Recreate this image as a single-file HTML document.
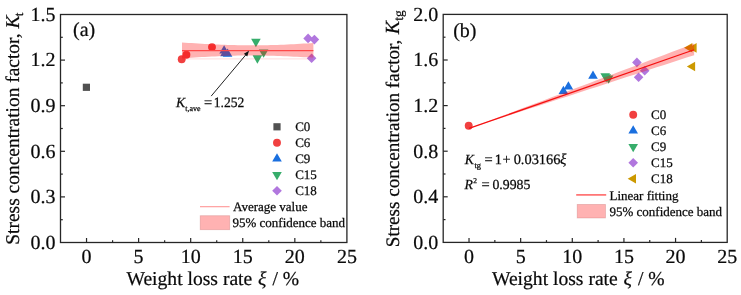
<!DOCTYPE html>
<html><head><meta charset="utf-8"><style>
html,body{margin:0;padding:0;background:#fff;}
svg{display:block;}
text{font-family:"Liberation Serif",serif;fill:#0a0a0a;stroke:#0a0a0a;stroke-width:0.25px;text-rendering:geometricPrecision;}
svg{will-change:transform;}
.b{stroke-width:0.22px;}
</style></head><body>
<svg width="741" height="295" viewBox="0 0 741 295">
<rect width="741" height="295" fill="#fff"/>
<line x1="86.54" y1="242.50" x2="86.54" y2="238.00" stroke="#262626" stroke-width="1.2"/>
<line x1="138.61" y1="242.50" x2="138.61" y2="238.00" stroke="#262626" stroke-width="1.2"/>
<line x1="190.68" y1="242.50" x2="190.68" y2="238.00" stroke="#262626" stroke-width="1.2"/>
<line x1="242.75" y1="242.50" x2="242.75" y2="238.00" stroke="#262626" stroke-width="1.2"/>
<line x1="294.83" y1="242.50" x2="294.83" y2="238.00" stroke="#262626" stroke-width="1.2"/>
<line x1="112.57" y1="242.50" x2="112.57" y2="240.20" stroke="#262626" stroke-width="1.2"/>
<line x1="164.65" y1="242.50" x2="164.65" y2="240.20" stroke="#262626" stroke-width="1.2"/>
<line x1="216.72" y1="242.50" x2="216.72" y2="240.20" stroke="#262626" stroke-width="1.2"/>
<line x1="268.79" y1="242.50" x2="268.79" y2="240.20" stroke="#262626" stroke-width="1.2"/>
<line x1="320.86" y1="242.50" x2="320.86" y2="240.20" stroke="#262626" stroke-width="1.2"/>
<line x1="60.50" y1="196.90" x2="65.00" y2="196.90" stroke="#262626" stroke-width="1.2"/>
<line x1="60.50" y1="151.30" x2="65.00" y2="151.30" stroke="#262626" stroke-width="1.2"/>
<line x1="60.50" y1="105.70" x2="65.00" y2="105.70" stroke="#262626" stroke-width="1.2"/>
<line x1="60.50" y1="60.10" x2="65.00" y2="60.10" stroke="#262626" stroke-width="1.2"/>
<line x1="60.50" y1="219.70" x2="62.80" y2="219.70" stroke="#262626" stroke-width="1.2"/>
<line x1="60.50" y1="174.10" x2="62.80" y2="174.10" stroke="#262626" stroke-width="1.2"/>
<line x1="60.50" y1="128.50" x2="62.80" y2="128.50" stroke="#262626" stroke-width="1.2"/>
<line x1="60.50" y1="82.90" x2="62.80" y2="82.90" stroke="#262626" stroke-width="1.2"/>
<line x1="60.50" y1="37.30" x2="62.80" y2="37.30" stroke="#262626" stroke-width="1.2"/>
<rect x="60.50" y="14.50" width="286.40" height="228.00" fill="none" stroke="#262626" stroke-width="1.3"/>
<text x="86.54" y="262.80" text-anchor="middle" class="b" font-family="Liberation Serif" font-size="20">0</text>
<text x="138.61" y="262.80" text-anchor="middle" class="b" font-family="Liberation Serif" font-size="20">5</text>
<text x="190.68" y="262.80" text-anchor="middle" class="b" font-family="Liberation Serif" font-size="20">10</text>
<text x="242.75" y="262.80" text-anchor="middle" class="b" font-family="Liberation Serif" font-size="20">15</text>
<text x="294.83" y="262.80" text-anchor="middle" class="b" font-family="Liberation Serif" font-size="20">20</text>
<text x="346.90" y="262.80" text-anchor="middle" class="b" font-family="Liberation Serif" font-size="20">25</text>
<text x="55.50" y="248.80" text-anchor="end" class="b" font-family="Liberation Serif" font-size="20">0.0</text>
<text x="55.50" y="203.20" text-anchor="end" class="b" font-family="Liberation Serif" font-size="20">0.3</text>
<text x="55.50" y="157.60" text-anchor="end" class="b" font-family="Liberation Serif" font-size="20">0.6</text>
<text x="55.50" y="112.00" text-anchor="end" class="b" font-family="Liberation Serif" font-size="20">0.9</text>
<text x="55.50" y="66.40" text-anchor="end" class="b" font-family="Liberation Serif" font-size="20">1.2</text>
<text x="55.50" y="20.80" text-anchor="end" class="b" font-family="Liberation Serif" font-size="20">1.5</text>
<text transform="translate(18.9,244.7) rotate(-90)" class="b" font-family="Liberation Serif" font-size="19.45">Stress concentration factor, <tspan font-style="italic">K</tspan><tspan font-size="13" dy="4" dx="-0.6">t</tspan></text>
<text x="126.5" y="285" class="b" font-family="Liberation Serif" font-size="19.6">Weight loss rate <tspan font-style="italic" dx="0.8">ξ</tspan><tspan dx="1.2"> / %</tspan></text>
<text x="73" y="35.5" class="b" font-family="Liberation Serif" font-size="20">(a)</text>
<rect x="82.80" y="83.70" width="7.20" height="7.20" fill="#515151"/>
<circle cx="181.70" cy="59.20" r="3.95" fill="#F14040"/>
<circle cx="186.40" cy="54.80" r="3.95" fill="#F14040"/>
<circle cx="212.00" cy="47.10" r="3.95" fill="#F14040"/>
<path d="M224.10,45.15L228.90,53.45L219.30,53.45Z" fill="#1A6FDF"/>
<path d="M225.00,48.05L229.80,56.35L220.20,56.35Z" fill="#1A6FDF"/>
<path d="M227.60,48.55L232.40,56.85L222.80,56.85Z" fill="#1A6FDF"/>
<path d="M255.90,47.15L260.70,38.85L251.10,38.85Z" fill="#37AD6B"/>
<path d="M263.60,57.75L268.40,49.45L258.80,49.45Z" fill="#37AD6B"/>
<path d="M257.40,63.65L262.20,55.35L252.60,55.35Z" fill="#37AD6B"/>
<path d="M308.10,33.60L312.90,38.40L308.10,43.20L303.30,38.40Z" fill="#B177DE"/>
<path d="M314.40,34.80L319.20,39.60L314.40,44.40L309.60,39.60Z" fill="#B177DE"/>
<path d="M311.60,53.50L316.40,58.30L311.60,63.10L306.80,58.30Z" fill="#B177DE"/>
<polygon points="182.00,42.45 185.28,42.67 188.57,42.88 191.85,43.10 195.14,43.30 198.43,43.50 201.71,43.69 205.00,43.88 208.28,44.06 211.56,44.23 214.85,44.39 218.13,44.54 221.42,44.68 224.70,44.81 227.99,44.93 231.27,45.03 234.56,45.12 237.84,45.20 241.13,45.26 244.41,45.31 247.70,45.34 250.98,45.35 254.27,45.35 257.55,45.33 260.84,45.29 264.12,45.24 267.41,45.17 270.69,45.09 273.98,44.99 277.26,44.89 280.55,44.76 283.83,44.63 287.12,44.48 290.40,44.33 293.69,44.16 296.97,43.99 300.26,43.81 303.54,43.62 306.83,43.43 310.12,43.22 313.40,43.02 313.40,57.78 310.12,57.58 306.83,57.37 303.54,57.18 300.26,56.99 296.97,56.81 293.69,56.64 290.40,56.47 287.12,56.32 283.83,56.17 280.55,56.04 277.26,55.91 273.98,55.81 270.69,55.71 267.41,55.63 264.12,55.56 260.84,55.51 257.55,55.47 254.27,55.45 250.98,55.45 247.70,55.46 244.41,55.49 241.13,55.54 237.84,55.60 234.56,55.68 231.27,55.77 227.99,55.87 224.70,55.99 221.42,56.12 218.13,56.26 214.85,56.41 211.56,56.57 208.28,56.74 205.00,56.92 201.71,57.11 198.43,57.30 195.14,57.50 191.85,57.70 188.57,57.92 185.28,58.13 182.00,58.35" fill="#FF0000" fill-opacity="0.3"/>
<line x1="182" y1="58.9" x2="313" y2="58.9" stroke="#FF0000" stroke-opacity="0.14" stroke-width="1"/>
<line x1="182" y1="50.6" x2="313.4" y2="50.6" stroke="#FF4848" stroke-width="1.3"/>
<line x1="211.2" y1="96.1" x2="246.2" y2="54.4" stroke="#222" stroke-width="1"/>
<path d="M249.0,50.8 L247.2,56.4 L243.9,53.8 Z" fill="#111"/>
<text x="175.96" y="107.30" font-family="Liberation Serif" font-size="13.8" font-style="italic">K</text>
<text x="185.32" y="110.60" font-family="Liberation Serif" font-size="7.9">t,ave</text>
<text x="203.88" y="107.30" font-family="Liberation Serif" font-size="14.5">=</text>
<text x="213.74" y="107.30" font-family="Liberation Serif" font-size="14.3" textLength="30.57" lengthAdjust="spacingAndGlyphs">1.252</text>
<rect x="273.40" y="123.20" width="7.20" height="7.20" fill="#515151"/>
<text x="295.2" y="131.40" font-family="Liberation Serif" font-size="13">C0</text>
<circle cx="277.00" cy="142.80" r="3.95" fill="#F14040"/>
<text x="295.2" y="147.40" font-family="Liberation Serif" font-size="13">C6</text>
<path d="M277.00,153.27L281.80,161.57L272.20,161.57Z" fill="#1A6FDF"/>
<text x="295.2" y="163.40" font-family="Liberation Serif" font-size="13">C9</text>
<path d="M277.00,180.33L281.80,172.03L272.20,172.03Z" fill="#37AD6B"/>
<text x="295.2" y="179.40" font-family="Liberation Serif" font-size="13">C15</text>
<path d="M277.00,186.00L281.80,190.80L277.00,195.60L272.20,190.80Z" fill="#B177DE"/>
<text x="295.2" y="195.40" font-family="Liberation Serif" font-size="13">C18</text>
<line x1="200" y1="206.7" x2="229.6" y2="206.7" stroke="#FF0000" stroke-opacity="0.42" stroke-width="1.1"/>
<text x="233" y="211.2" font-family="Liberation Serif" font-size="13">Average value</text>
<rect x="200.2" y="215.7" width="29.5" height="14" fill="#FF0000" fill-opacity="0.3" stroke="#C06060" stroke-opacity="0.35" stroke-width="0.8"/>
<text x="232.5" y="227" font-family="Liberation Serif" font-size="13">95% confidence band</text>
<line x1="469.02" y1="242.40" x2="469.02" y2="237.90" stroke="#262626" stroke-width="1.2"/>
<line x1="520.65" y1="242.40" x2="520.65" y2="237.90" stroke="#262626" stroke-width="1.2"/>
<line x1="572.29" y1="242.40" x2="572.29" y2="237.90" stroke="#262626" stroke-width="1.2"/>
<line x1="623.93" y1="242.40" x2="623.93" y2="237.90" stroke="#262626" stroke-width="1.2"/>
<line x1="675.56" y1="242.40" x2="675.56" y2="237.90" stroke="#262626" stroke-width="1.2"/>
<line x1="494.84" y1="242.40" x2="494.84" y2="240.10" stroke="#262626" stroke-width="1.2"/>
<line x1="546.47" y1="242.40" x2="546.47" y2="240.10" stroke="#262626" stroke-width="1.2"/>
<line x1="598.11" y1="242.40" x2="598.11" y2="240.10" stroke="#262626" stroke-width="1.2"/>
<line x1="649.75" y1="242.40" x2="649.75" y2="240.10" stroke="#262626" stroke-width="1.2"/>
<line x1="701.38" y1="242.40" x2="701.38" y2="240.10" stroke="#262626" stroke-width="1.2"/>
<line x1="443.20" y1="196.80" x2="447.70" y2="196.80" stroke="#262626" stroke-width="1.2"/>
<line x1="443.20" y1="151.20" x2="447.70" y2="151.20" stroke="#262626" stroke-width="1.2"/>
<line x1="443.20" y1="105.60" x2="447.70" y2="105.60" stroke="#262626" stroke-width="1.2"/>
<line x1="443.20" y1="60.00" x2="447.70" y2="60.00" stroke="#262626" stroke-width="1.2"/>
<line x1="443.20" y1="219.60" x2="445.50" y2="219.60" stroke="#262626" stroke-width="1.2"/>
<line x1="443.20" y1="174.00" x2="445.50" y2="174.00" stroke="#262626" stroke-width="1.2"/>
<line x1="443.20" y1="128.40" x2="445.50" y2="128.40" stroke="#262626" stroke-width="1.2"/>
<line x1="443.20" y1="82.80" x2="445.50" y2="82.80" stroke="#262626" stroke-width="1.2"/>
<line x1="443.20" y1="37.20" x2="445.50" y2="37.20" stroke="#262626" stroke-width="1.2"/>
<rect x="443.20" y="14.40" width="284.00" height="228.00" fill="none" stroke="#262626" stroke-width="1.3"/>
<text x="469.02" y="262.70" text-anchor="middle" class="b" font-family="Liberation Serif" font-size="20">0</text>
<text x="520.65" y="262.70" text-anchor="middle" class="b" font-family="Liberation Serif" font-size="20">5</text>
<text x="572.29" y="262.70" text-anchor="middle" class="b" font-family="Liberation Serif" font-size="20">10</text>
<text x="623.93" y="262.70" text-anchor="middle" class="b" font-family="Liberation Serif" font-size="20">15</text>
<text x="675.56" y="262.70" text-anchor="middle" class="b" font-family="Liberation Serif" font-size="20">20</text>
<text x="727.20" y="262.70" text-anchor="middle" class="b" font-family="Liberation Serif" font-size="20">25</text>
<text x="438.20" y="248.70" text-anchor="end" class="b" font-family="Liberation Serif" font-size="20">0.0</text>
<text x="438.20" y="203.10" text-anchor="end" class="b" font-family="Liberation Serif" font-size="20">0.4</text>
<text x="438.20" y="157.50" text-anchor="end" class="b" font-family="Liberation Serif" font-size="20">0.8</text>
<text x="438.20" y="111.90" text-anchor="end" class="b" font-family="Liberation Serif" font-size="20">1.2</text>
<text x="438.20" y="66.30" text-anchor="end" class="b" font-family="Liberation Serif" font-size="20">1.6</text>
<text x="438.20" y="20.70" text-anchor="end" class="b" font-family="Liberation Serif" font-size="20">2.0</text>
<text transform="translate(398.9,247.2) rotate(-90)" class="b" font-family="Liberation Serif" font-size="19.1">Stress concentration factor, <tspan font-style="italic" font-size="20" dx="0.5">K</tspan><tspan font-size="13.5" dy="4" dx="0.3">tg</tspan></text>
<text x="492" y="285" class="b" font-family="Liberation Serif" font-size="19.6">Weight loss rate <tspan font-style="italic" dx="0.8">ξ</tspan><tspan dx="1.2"> / %</tspan></text>
<text x="453.2" y="36.8" class="b" font-family="Liberation Serif" font-size="20">(b)</text>
<circle cx="468.70" cy="125.80" r="3.95" fill="#F14040"/>
<path d="M563.40,85.65L568.20,93.95L558.60,93.95Z" fill="#1A6FDF"/>
<path d="M568.40,81.25L573.20,89.55L563.60,89.55Z" fill="#1A6FDF"/>
<path d="M593.00,70.45L597.80,78.75L588.20,78.75Z" fill="#1A6FDF"/>
<path d="M605.20,81.45L610.00,73.15L600.40,73.15Z" fill="#37AD6B"/>
<path d="M606.30,82.55L611.10,74.25L601.50,74.25Z" fill="#37AD6B"/>
<path d="M608.60,83.85L613.40,75.55L603.80,75.55Z" fill="#37AD6B"/>
<path d="M636.90,57.60L641.70,62.40L636.90,67.20L632.10,62.40Z" fill="#B177DE"/>
<path d="M644.70,66.00L649.50,70.80L644.70,75.60L639.90,70.80Z" fill="#B177DE"/>
<path d="M638.60,72.50L643.40,77.30L638.60,82.10L633.80,77.30Z" fill="#B177DE"/>
<path d="M688.35,47.90L696.65,43.10L696.65,52.70Z" fill="#CC9900"/>
<path d="M684.05,47.70L692.35,42.90L692.35,52.50Z" fill="#CC9900"/>
<path d="M686.85,66.50L695.15,61.70L695.15,71.30Z" fill="#CC9900"/>
<polygon points="469.02,128.40 476.52,125.57 484.03,122.75 491.53,119.92 499.04,117.09 506.54,114.27 514.05,111.44 521.55,108.61 529.05,105.78 536.56,102.96 544.06,100.13 551.57,97.30 559.07,94.48 566.58,91.65 574.08,88.82 581.59,86.00 589.09,83.17 596.59,80.34 604.10,77.51 611.60,74.69 619.11,71.86 626.61,69.03 634.12,66.21 641.62,63.38 649.13,60.55 656.63,57.73 664.13,54.90 671.64,52.07 679.14,49.25 686.65,46.42 694.15,43.59 694.15,55.15 686.65,57.59 679.14,60.03 671.64,62.47 664.13,64.91 656.63,67.35 649.13,69.80 641.62,72.24 634.12,74.68 626.61,77.12 619.11,79.56 611.60,82.01 604.10,84.45 596.59,86.89 589.09,89.33 581.59,91.77 574.08,94.21 566.58,96.66 559.07,99.10 551.57,101.54 544.06,103.98 536.56,106.42 529.05,108.87 521.55,111.31 514.05,113.75 506.54,116.19 499.04,118.63 491.53,121.07 484.03,123.52 476.52,125.96 469.02,128.40" fill="#FF0000" fill-opacity="0.3"/>
<line x1="469.02" y1="128.40" x2="694.15" y2="49.72" stroke="#F51010" stroke-width="1.25"/>
<text x="464.76" y="164.40" font-family="Liberation Serif" font-size="13.8" font-style="italic">K</text>
<text x="474.52" y="168.30" font-family="Liberation Serif" font-size="8.3">tg</text>
<text x="484.58" y="164.40" font-family="Liberation Serif" font-size="14.5">=</text>
<text x="494.64" y="164.40" font-family="Liberation Serif" font-size="14.3">1</text>
<text x="502.59" y="164.40" font-family="Liberation Serif" font-size="14.3">+</text>
<text x="513.65" y="164.40" font-family="Liberation Serif" font-size="14.4">0.03166</text>
<text x="560.09" y="164.40" font-family="Liberation Serif" font-size="15" font-style="italic">ξ</text>
<text x="464.57" y="189.40" font-family="Liberation Serif" font-size="13.8" font-style="italic">R</text>
<text x="473.17" y="183.40" font-family="Liberation Serif" font-size="7.5">2</text>
<text x="481.38" y="189.40" font-family="Liberation Serif" font-size="14.5">=</text>
<text x="492.47" y="189.40" font-family="Liberation Serif" font-size="13.8">0.9985</text>
<circle cx="633.20" cy="114.80" r="3.95" fill="#F14040"/>
<text x="651" y="119.40" font-family="Liberation Serif" font-size="13">C0</text>
<path d="M633.20,125.27L638.00,133.57L628.40,133.57Z" fill="#1A6FDF"/>
<text x="651" y="135.40" font-family="Liberation Serif" font-size="13">C6</text>
<path d="M633.20,152.33L638.00,144.03L628.40,144.03Z" fill="#37AD6B"/>
<text x="651" y="151.40" font-family="Liberation Serif" font-size="13">C9</text>
<path d="M633.20,158.00L638.00,162.80L633.20,167.60L628.40,162.80Z" fill="#B177DE"/>
<text x="651" y="167.40" font-family="Liberation Serif" font-size="13">C15</text>
<path d="M627.67,178.80L635.97,174.00L635.97,183.60Z" fill="#CC9900"/>
<text x="651" y="183.40" font-family="Liberation Serif" font-size="13">C18</text>
<line x1="576.2" y1="194.9" x2="606.2" y2="194.9" stroke="#FF0000" stroke-opacity="0.6" stroke-width="1.6"/>
<text x="609.5" y="199.9" font-family="Liberation Serif" font-size="13">Linear fitting</text>
<rect x="577.2" y="204.4" width="28.3" height="13.6" fill="#FF0000" fill-opacity="0.3" stroke="#C06060" stroke-opacity="0.35" stroke-width="0.8"/>
<text x="609.5" y="216.0" font-family="Liberation Serif" font-size="13">95% confidence band</text>
</svg>
</body></html>
